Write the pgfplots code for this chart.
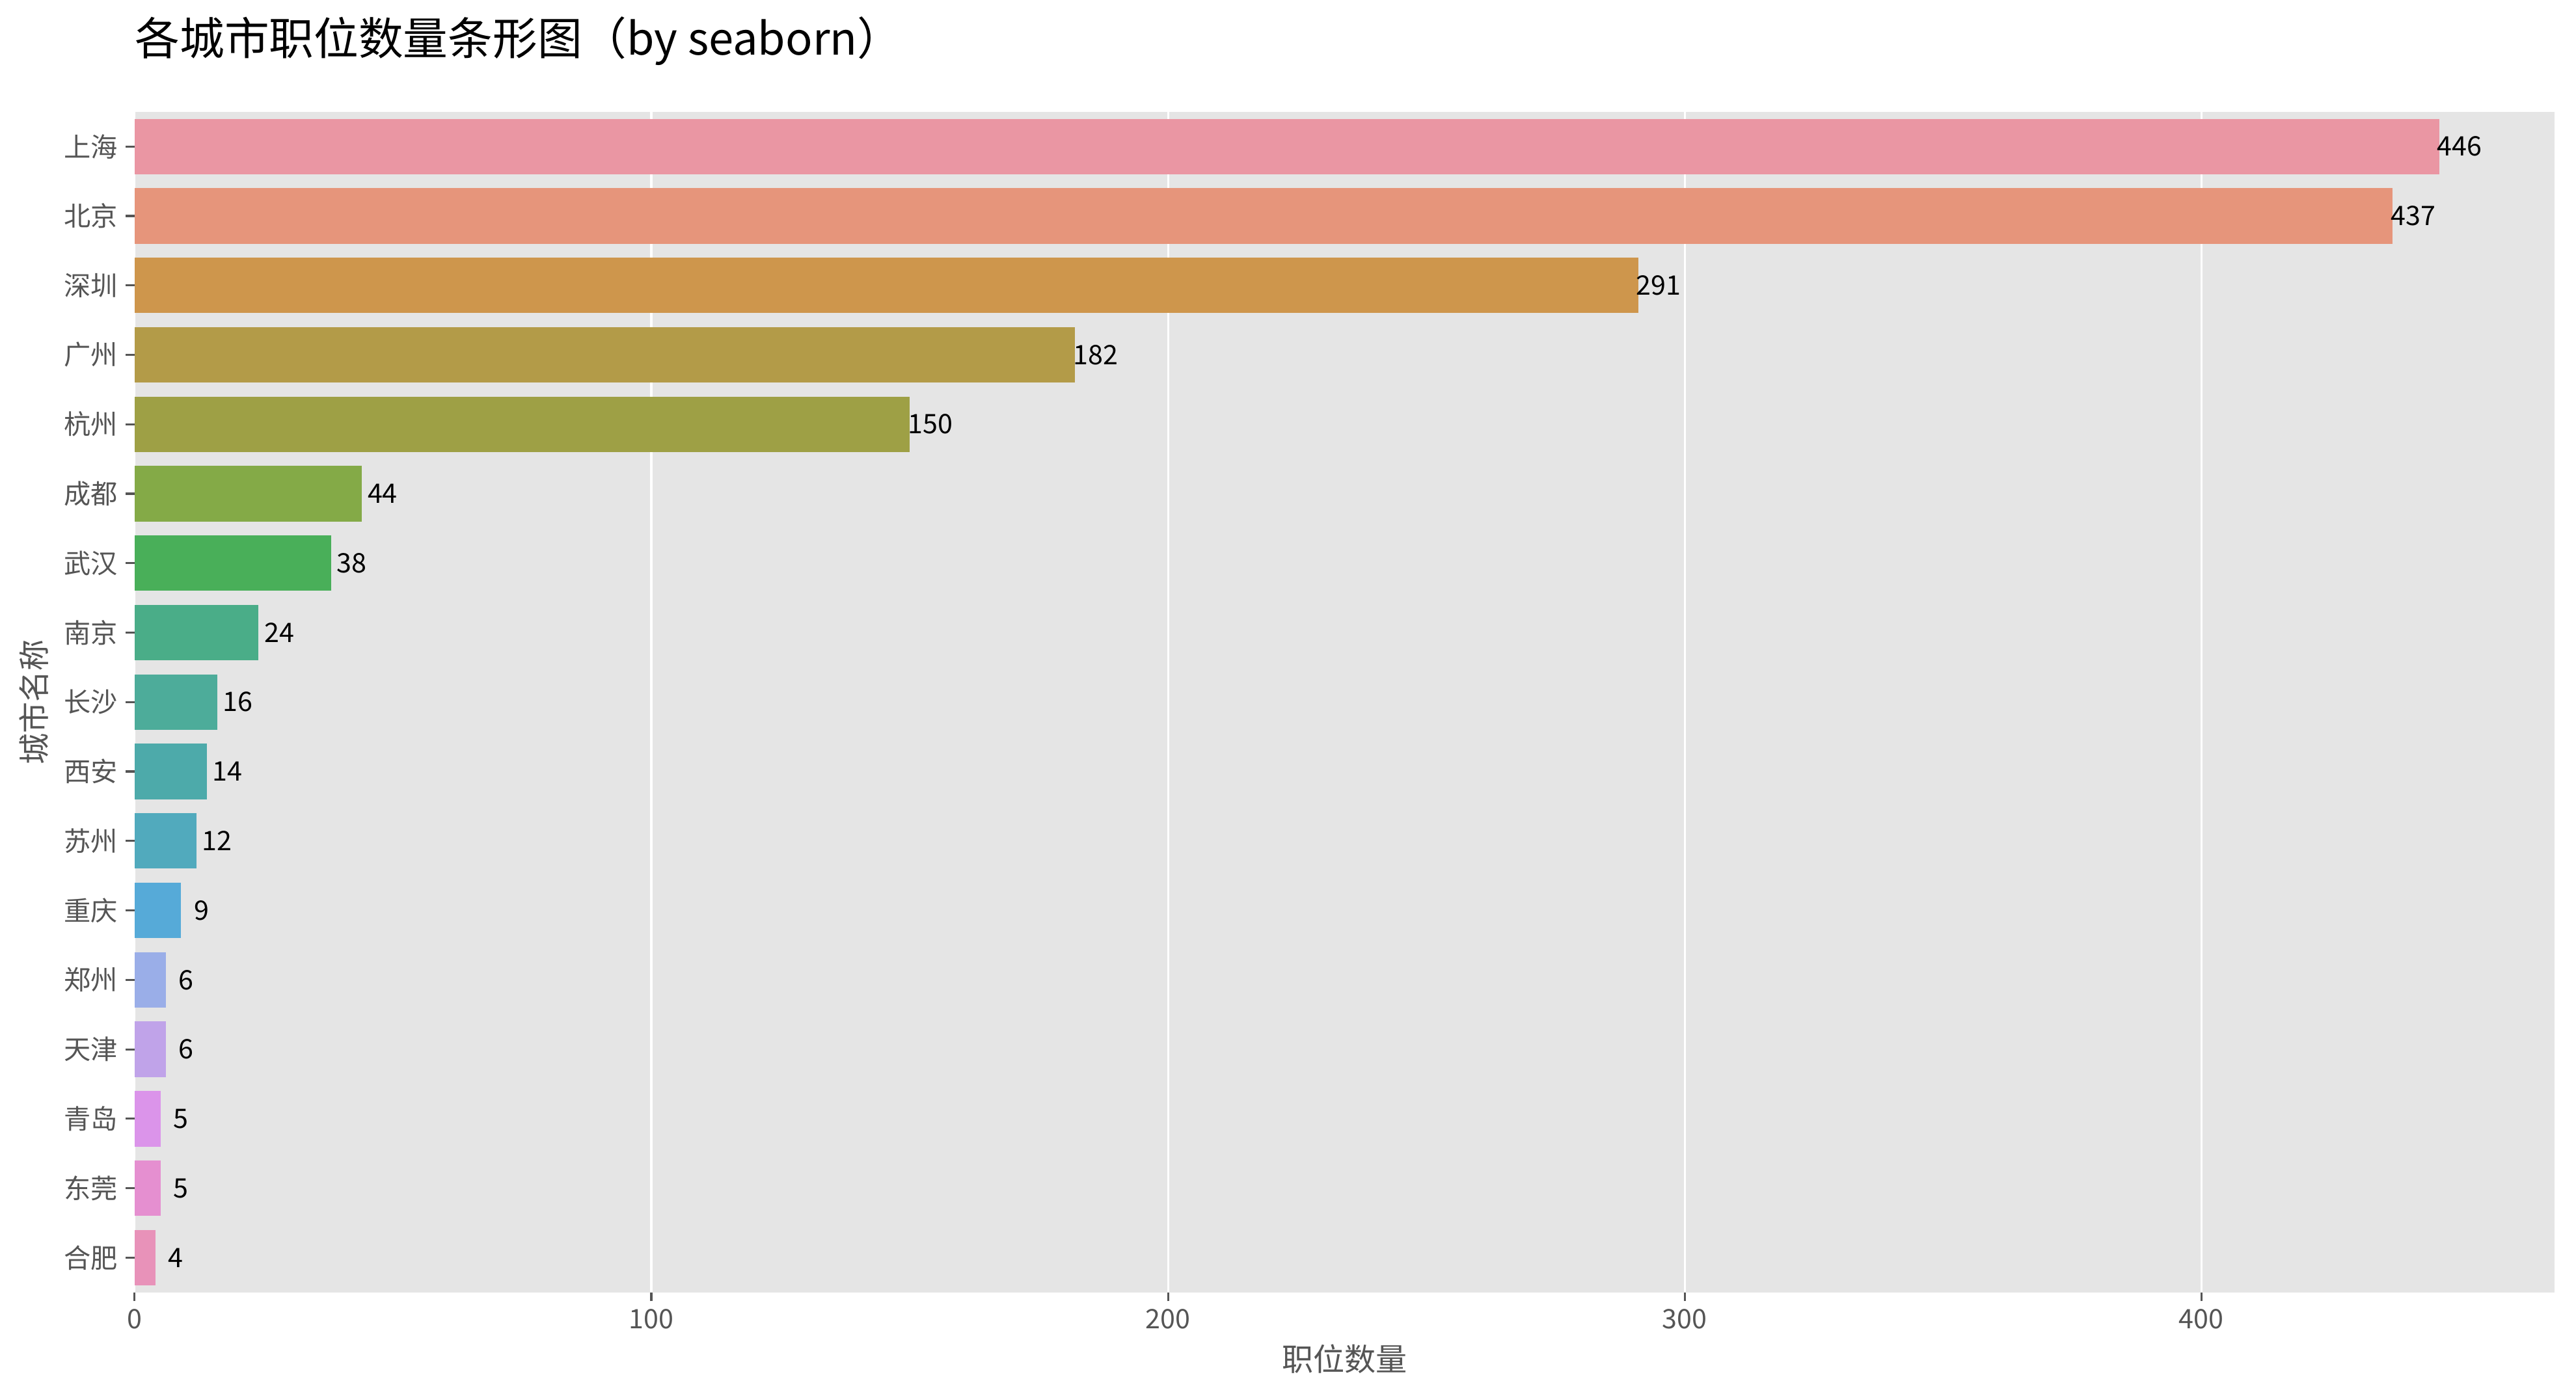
\documentclass[border=0pt]{standalone}
\usepackage{pgfplots}
\pgfplotsset{compat=1.18}
\usepackage{fontspec}
\setmainfont{Noto Sans CJK SC}
\setsansfont{Noto Sans CJK SC}
\definecolor{bgcolor}{HTML}{E5E5E5}
\definecolor{tickgray}{HTML}{555555}
\definecolor{c1}{HTML}{EA96A3}
\definecolor{c2}{HTML}{E6957B}
\definecolor{c3}{HTML}{CE964C}
\definecolor{c4}{HTML}{B39B48}
\definecolor{c5}{HTML}{9EA045}
\definecolor{c6}{HTML}{84AA47}
\definecolor{c7}{HTML}{49AF59}
\definecolor{c8}{HTML}{4AAD88}
\definecolor{c9}{HTML}{4DAC9A}
\definecolor{c10}{HTML}{4DAAAA}
\definecolor{c11}{HTML}{51AABD}
\definecolor{c12}{HTML}{56AAD8}
\definecolor{c13}{HTML}{9AAEE8}
\definecolor{c14}{HTML}{C0A3E9}
\definecolor{c15}{HTML}{DB94EA}
\definecolor{c16}{HTML}{E58FD0}
\definecolor{c17}{HTML}{E892B9}
\begin{document}
\begin{tikzpicture}[x=1pt,y=1pt]
\useasboundingbox (0,0) rectangle (1152,623.5);
\begin{axis}[
  at={(60.2pt,45.4pt)}, anchor=south west,
  scale only axis, width=1082.1pt, height=528.1pt,
  xmin=0, xmax=468.3, ymin=-0.5, ymax=16.5, y dir=reverse,
  axis background/.style={fill=bgcolor},
  axis line style={draw=none},
  xmajorgrids, grid style={white, line width=0.9pt},
  xtick={0,100,200,300,400},
  ytick={0,1,2,3,4,5,6,7,8,9,10,11,12,13,14,15,16},
  yticklabels={上海,北京,深圳,广州,杭州,成都,武汉,南京,长沙,西安,苏州,重庆,郑州,天津,青岛,东莞,合肥},
  tick align=outside, tick pos=left,
  major tick length=4pt,
  tick style={color=tickgray, line width=0.9pt},
  ticklabel style={font=\fontsize{12}{14}\selectfont, text=tickgray},
  /pgf/number format/assume math mode=true,
  xlabel={职位数量}, ylabel={城市名称},
  label style={font=\fontsize{14}{16}\selectfont, text=tickgray},
  xbar, bar width=0.8, bar shift=0pt,
  nodes near coords,
  nodes near coords style={anchor=center, xshift=9.2pt, font=\fontsize{12}{14}\selectfont, text=black},
]
\addplot[fill=c1, draw=none] coordinates {(446,0)};
\addplot[fill=c2, draw=none] coordinates {(437,1)};
\addplot[fill=c3, draw=none] coordinates {(291,2)};
\addplot[fill=c4, draw=none] coordinates {(182,3)};
\addplot[fill=c5, draw=none] coordinates {(150,4)};
\addplot[fill=c6, draw=none] coordinates {(44,5)};
\addplot[fill=c7, draw=none] coordinates {(38,6)};
\addplot[fill=c8, draw=none] coordinates {(24,7)};
\addplot[fill=c9, draw=none] coordinates {(16,8)};
\addplot[fill=c10, draw=none] coordinates {(14,9)};
\addplot[fill=c11, draw=none] coordinates {(12,10)};
\addplot[fill=c12, draw=none] coordinates {(9,11)};
\addplot[fill=c13, draw=none] coordinates {(6,12)};
\addplot[fill=c14, draw=none] coordinates {(6,13)};
\addplot[fill=c15, draw=none] coordinates {(5,14)};
\addplot[fill=c16, draw=none] coordinates {(5,15)};
\addplot[fill=c17, draw=none] coordinates {(4,16)};
\end{axis}
\node[anchor=base west, font=\fontsize{20}{24}\selectfont, inner sep=0pt] at (60.2,599) {各城市职位数量条形图（by seaborn）};
\end{tikzpicture}
\end{document}
